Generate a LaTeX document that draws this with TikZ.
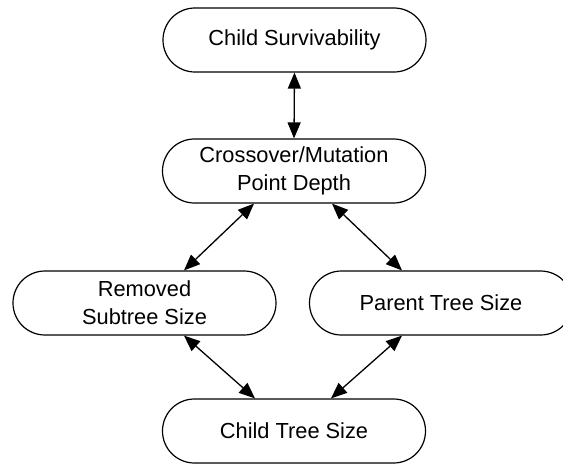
\documentclass[tikz,border=0pt]{standalone}
\usepackage{fontspec}
\setmainfont{Liberation Sans}
\usetikzlibrary{arrows.meta}
\begin{document}
\begin{tikzpicture}[x=1pt,y=-1pt,
  stadium/.style={draw=black, line width=1.2pt, rounded corners=31.9pt,
    minimum width=263pt, minimum height=64pt, align=center, inner sep=0pt,
    font=\fontsize{21.8}{28}\selectfont},
  link/.style={line width=1.3pt, {Triangle[length=16pt,width=13pt]}-{Triangle[length=16pt,width=13pt]}}]
\useasboundingbox (0,0) rectangle (563,464);
\clip (0,0) rectangle (563,464);
\node[stadium] (cs) at (294.5,40) {Child Survivability};
\node[stadium] (cm) at (294,171) {Crossover/Mutation\\Point Depth};
\node[stadium] (rs) at (144.5,303) {Removed\\Subtree Size};
\node[stadium] (pt) at (441,303) {Parent Tree Size};
\node[stadium] (ct) at (294,431) {Child Tree Size};
\draw[link] (cs.south) -- (cm.north);
\draw[link] ([xshift=-40pt]cm.south) -- ([xshift=39.5pt]rs.north);
\draw[link] ([xshift=38pt]cm.south) -- ([xshift=-39pt]pt.north);
\draw[link] ([xshift=39.5pt]rs.south) -- ([xshift=-39pt]ct.north);
\draw[link] ([xshift=-39pt]pt.south) -- ([xshift=37pt]ct.north);
\end{tikzpicture}
\end{document}
